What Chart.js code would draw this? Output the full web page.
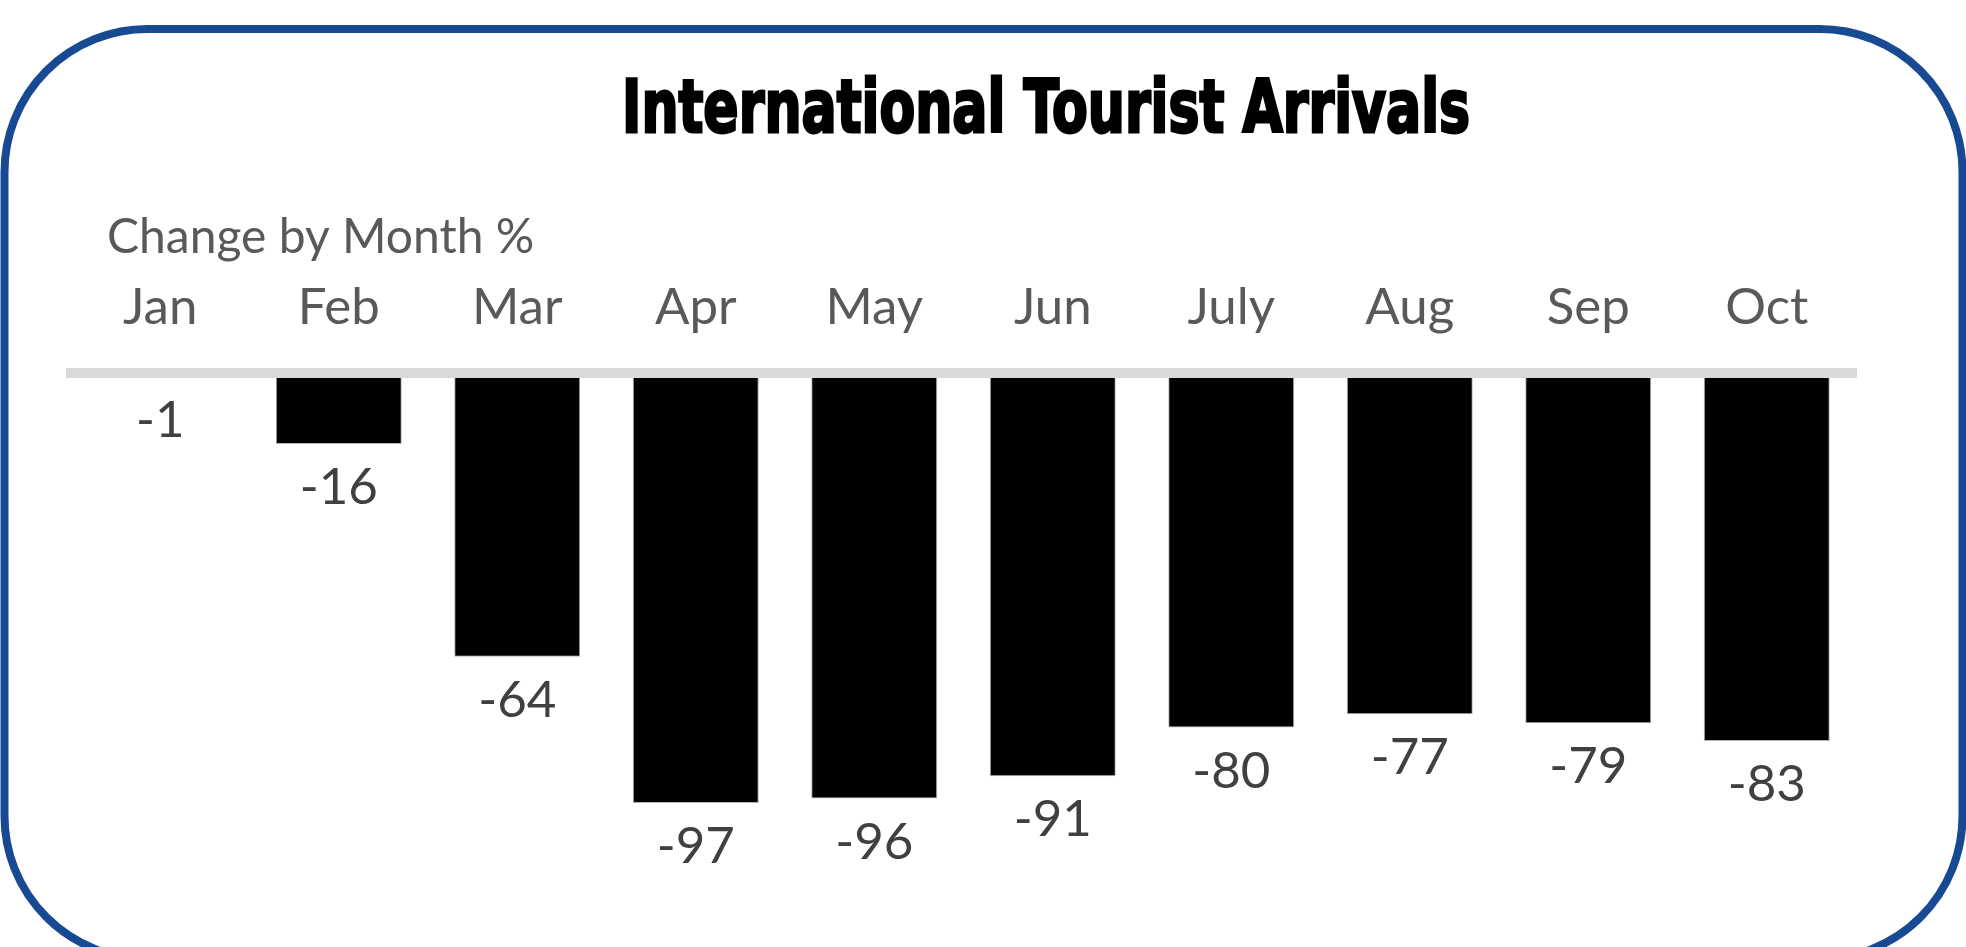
<!DOCTYPE html>
<html>
<head>
<meta charset="utf-8">
<title>International Tourist Arrivals</title>
<script src="https://cdn.jsdelivr.net/npm/chart.js@4.4.1/dist/chart.umd.min.js"></script>
<style>
  html, body { margin: 0; padding: 0; background: #ffffff; overflow: hidden; }
  #wrap { position: relative; width: 1966px; height: 947px; }
</style>
</head>
<body>
<div id="wrap"><canvas id="arrivals"></canvas></div>
<script>
// data
var months = ['Jan', 'Feb', 'Mar', 'Apr', 'May', 'Jun', 'July', 'Aug', 'Sep', 'Oct'];
var changePct = [-1, -16, -64, -97, -96, -91, -80, -77, -79, -83];

var chartTitle = 'International Tourist Arrivals';
var chartSubtitle = 'Change by Month %';

var labelFont = 'Lato, "Open Sans", sans-serif';

// frame, heading and sub heading
var headings = {
  id: 'headings',
  beforeDraw: function(chart) {
    var ctx = chart.ctx;
    ctx.save();
    ctx.strokeStyle = '#184a93';
    ctx.lineWidth = 8;
    ctx.beginPath();
    ctx.roundRect(4.5, 29, chart.width - 8, chart.height - 17, 143);
    ctx.stroke();

    ctx.font = 'bold 73px "DejaVu Sans"';
    var w = ctx.measureText(chartTitle).width;
    ctx.translate(622, 132);
    ctx.scale(848 / w, 1);
    ctx.fillStyle = '#000000';
    ctx.strokeStyle = '#000000';
    ctx.lineWidth = 3;
    ctx.textBaseline = 'alphabetic';
    ctx.fillText(chartTitle, 0, 0);
    ctx.strokeText(chartTitle, 0, 0);
    ctx.restore();

    ctx.save();
    ctx.font = '48px ' + labelFont;
    ctx.fillStyle = '#595959';
    ctx.textBaseline = 'alphabetic';
    ctx.fillText(chartSubtitle, 107, 253);
    ctx.restore();
  }
};

// value under the end of each bar
var valueLabels = {
  id: 'valueLabels',
  afterDraw: function(chart) {
    var ctx = chart.ctx;
    var meta = chart.getDatasetMeta(0);
    ctx.save();
    ctx.font = '51px ' + labelFont;
    ctx.fillStyle = '#404040';
    ctx.textAlign = 'center';
    ctx.textBaseline = 'alphabetic';
    meta.data.forEach(function(bar, i) {
      ctx.fillText(String(chart.data.datasets[0].data[i]), bar.x, bar.y + 60);
    });
    ctx.restore();
  }
};

var config = {
  type: 'bar',
  data: {
    labels: months,
    datasets: [{
      data: changePct,
      backgroundColor: '#000000',
      borderColor: '#b3b3b3',
      borderWidth: 1,
      borderSkipped: 'start',
      barPercentage: 0.706,
      categoryPercentage: 1.0
    }]
  },
  options: {
    responsive: true,
    maintainAspectRatio: false,
    animation: false,
    layout: {
      padding: { left: 71, right: 110, top: 0, bottom: 0 }
    },
    plugins: {
      legend: { display: false },
      title: { display: false },
      tooltip: { enabled: false }
    },
    scales: {
      x: {
        position: 'top',
        afterFit: function(scale) { scale.height = 373; },
        grid: { display: false, drawTicks: false },
        border: { display: true, color: '#d9d9d9', width: 10, z: 1 },
        ticks: {
          color: '#595959',
          padding: 35,
          font: { family: labelFont, size: 51 }
        }
      },
      y: {
        display: false,
        min: -129.5,
        max: 0
      }
    }
  },
  plugins: [headings, valueLabels]
};

window.arrivals_chart = new Chart(document.getElementById('arrivals').getContext('2d'), config);
</script>
</body>
</html>
